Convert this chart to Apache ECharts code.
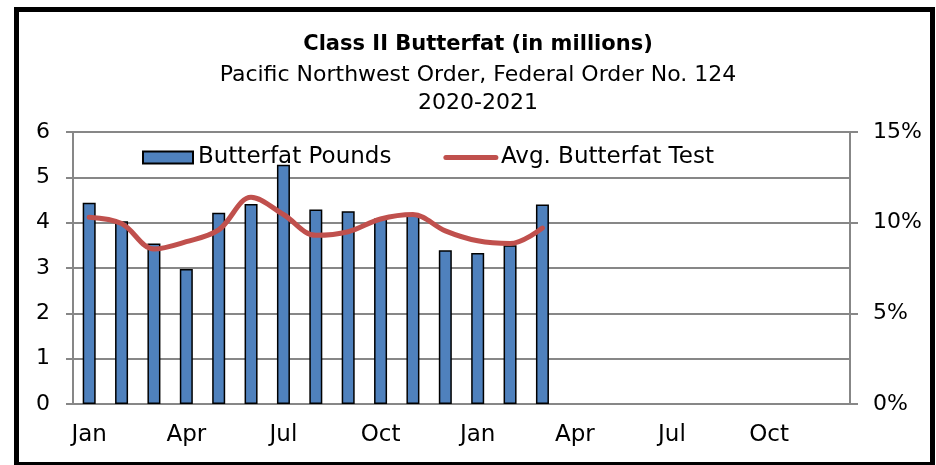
<!DOCTYPE html>
<html>
<head>
<meta charset="utf-8">
<script src="https://cdn.jsdelivr.net/npm/echarts@6/dist/echarts.min.js"></script>
<style>
html,body{margin:0;padding:0;background:#fff;}
#c{width:936px;height:465px;}
</style>
</head>
<body>
<div id="c"></div>
<script>
var months = ['Jan','Feb','Mar','Apr','May','Jun','Jul','Aug','Sep','Oct','Nov','Dec',
              'Jan','Feb','Mar','Apr','May','Jun','Jul','Aug','Sep','Oct','Nov','Dec'];
var butterfatPounds = [4.44, 4.03, 3.54, 2.98, 4.22, 4.41, 5.28, 4.29, 4.25, 4.09, 4.17, 3.39, 3.33, 3.50, 4.40];
var avgButterfatTest = [10.3, 9.95, 8.55, 8.95, 9.6, 11.4, 10.45, 9.3, 9.5, 10.2, 10.45, 9.55, 9.0, 8.85, 9.7];
var leftTicks = [0, 1, 2, 3, 4, 5, 6];
var rightTicks = [0, 5, 10, 15];

function pad(arr, n) { var out = arr.slice(); while (out.length < n) out.push(null); return out; }

var FONT = 'DejaVu Sans, sans-serif';
var GRAY = '#878787';
var chart = echarts.init(document.getElementById('c'), null, {renderer: 'canvas'});
chart.setOption({
  animation: false,
  textStyle: {fontFamily: FONT},
  title: {
    text: 'Class II Butterfat (in millions)',
    subtext: 'Pacific Northwest Order, Federal Order No. 124\n2020-2021',
    left: 473, top: 26, textAlign: 'center', itemGap: 2,
    textStyle: {fontFamily: FONT, fontSize: 21, fontWeight: 'bold', color: '#000', lineHeight: 28},
    subtextStyle: {fontFamily: FONT, fontSize: 22, color: '#000', lineHeight: 28}
  },
  legend: {
    left: 137, top: 141, itemWidth: 50, itemHeight: 12, itemGap: 52,
    textStyle: {fontFamily: FONT, fontSize: 23, color: '#000'},
    data: [
      {name: 'Butterfat Pounds', icon: 'rect'},
      {name: 'Avg. Butterfat Test', itemStyle: {opacity: 0}, lineStyle: {width: 5, cap: 'round', color: '#C0504D'}}
    ]
  },
  grid: {left: 73, right: 86, top: 132, bottom: 61},
  xAxis: {
    type: 'category', data: months, boundaryGap: true,
    axisLine: {lineStyle: {color: GRAY, width: 2}},
    axisTick: {interval: 2, length: 8, lineStyle: {color: GRAY, width: 2}},
    axisLabel: {interval: 2, margin: 20, fontSize: 23, color: '#000', fontFamily: FONT}
  },
  yAxis: [{
    type: 'value', min: 0, max: 6, interval: 1, position: 'left',
    axisLine: {show: true, lineStyle: {color: GRAY, width: 2}},
    axisTick: {show: true, length: 7, lineStyle: {color: GRAY, width: 2}},
    axisLabel: {margin: 23, fontSize: 22, color: '#000', fontFamily: FONT},
    splitLine: {lineStyle: {color: GRAY, width: 2}}
  }, {
    type: 'value', min: 0, max: 15, interval: 5, position: 'right',
    axisLine: {show: true, lineStyle: {color: GRAY, width: 2}},
    axisTick: {show: true, length: 8, lineStyle: {color: GRAY, width: 2}},
    axisLabel: {margin: 23, fontSize: 22, color: '#000', fontFamily: FONT, formatter: '{value}%'},
    splitLine: {show: false}
  }],
  series: [{
    name: 'Butterfat Pounds', type: 'bar', yAxisIndex: 0, barWidth: 13,
    data: pad(butterfatPounds, months.length),
    itemStyle: {color: '#4F81BD', borderColor: '#000', borderWidth: 1.5}
  }, {
    name: 'Avg. Butterfat Test', type: 'line', yAxisIndex: 1, smooth: 0.35,
    data: pad(avgButterfatTest, months.length), symbol: 'none', connectNulls: false,
    lineStyle: {color: '#C0504D', width: 5, cap: 'round'}, itemStyle: {color: '#C0504D'}
  }],
  graphic: [{
    type: 'rect', silent: true, z: 100,
    shape: {x: 16.5, y: 9.5, width: 916, height: 455},
    style: {fill: 'none', stroke: '#000', lineWidth: 5}
  }]
});
</script>
</body>
</html>
